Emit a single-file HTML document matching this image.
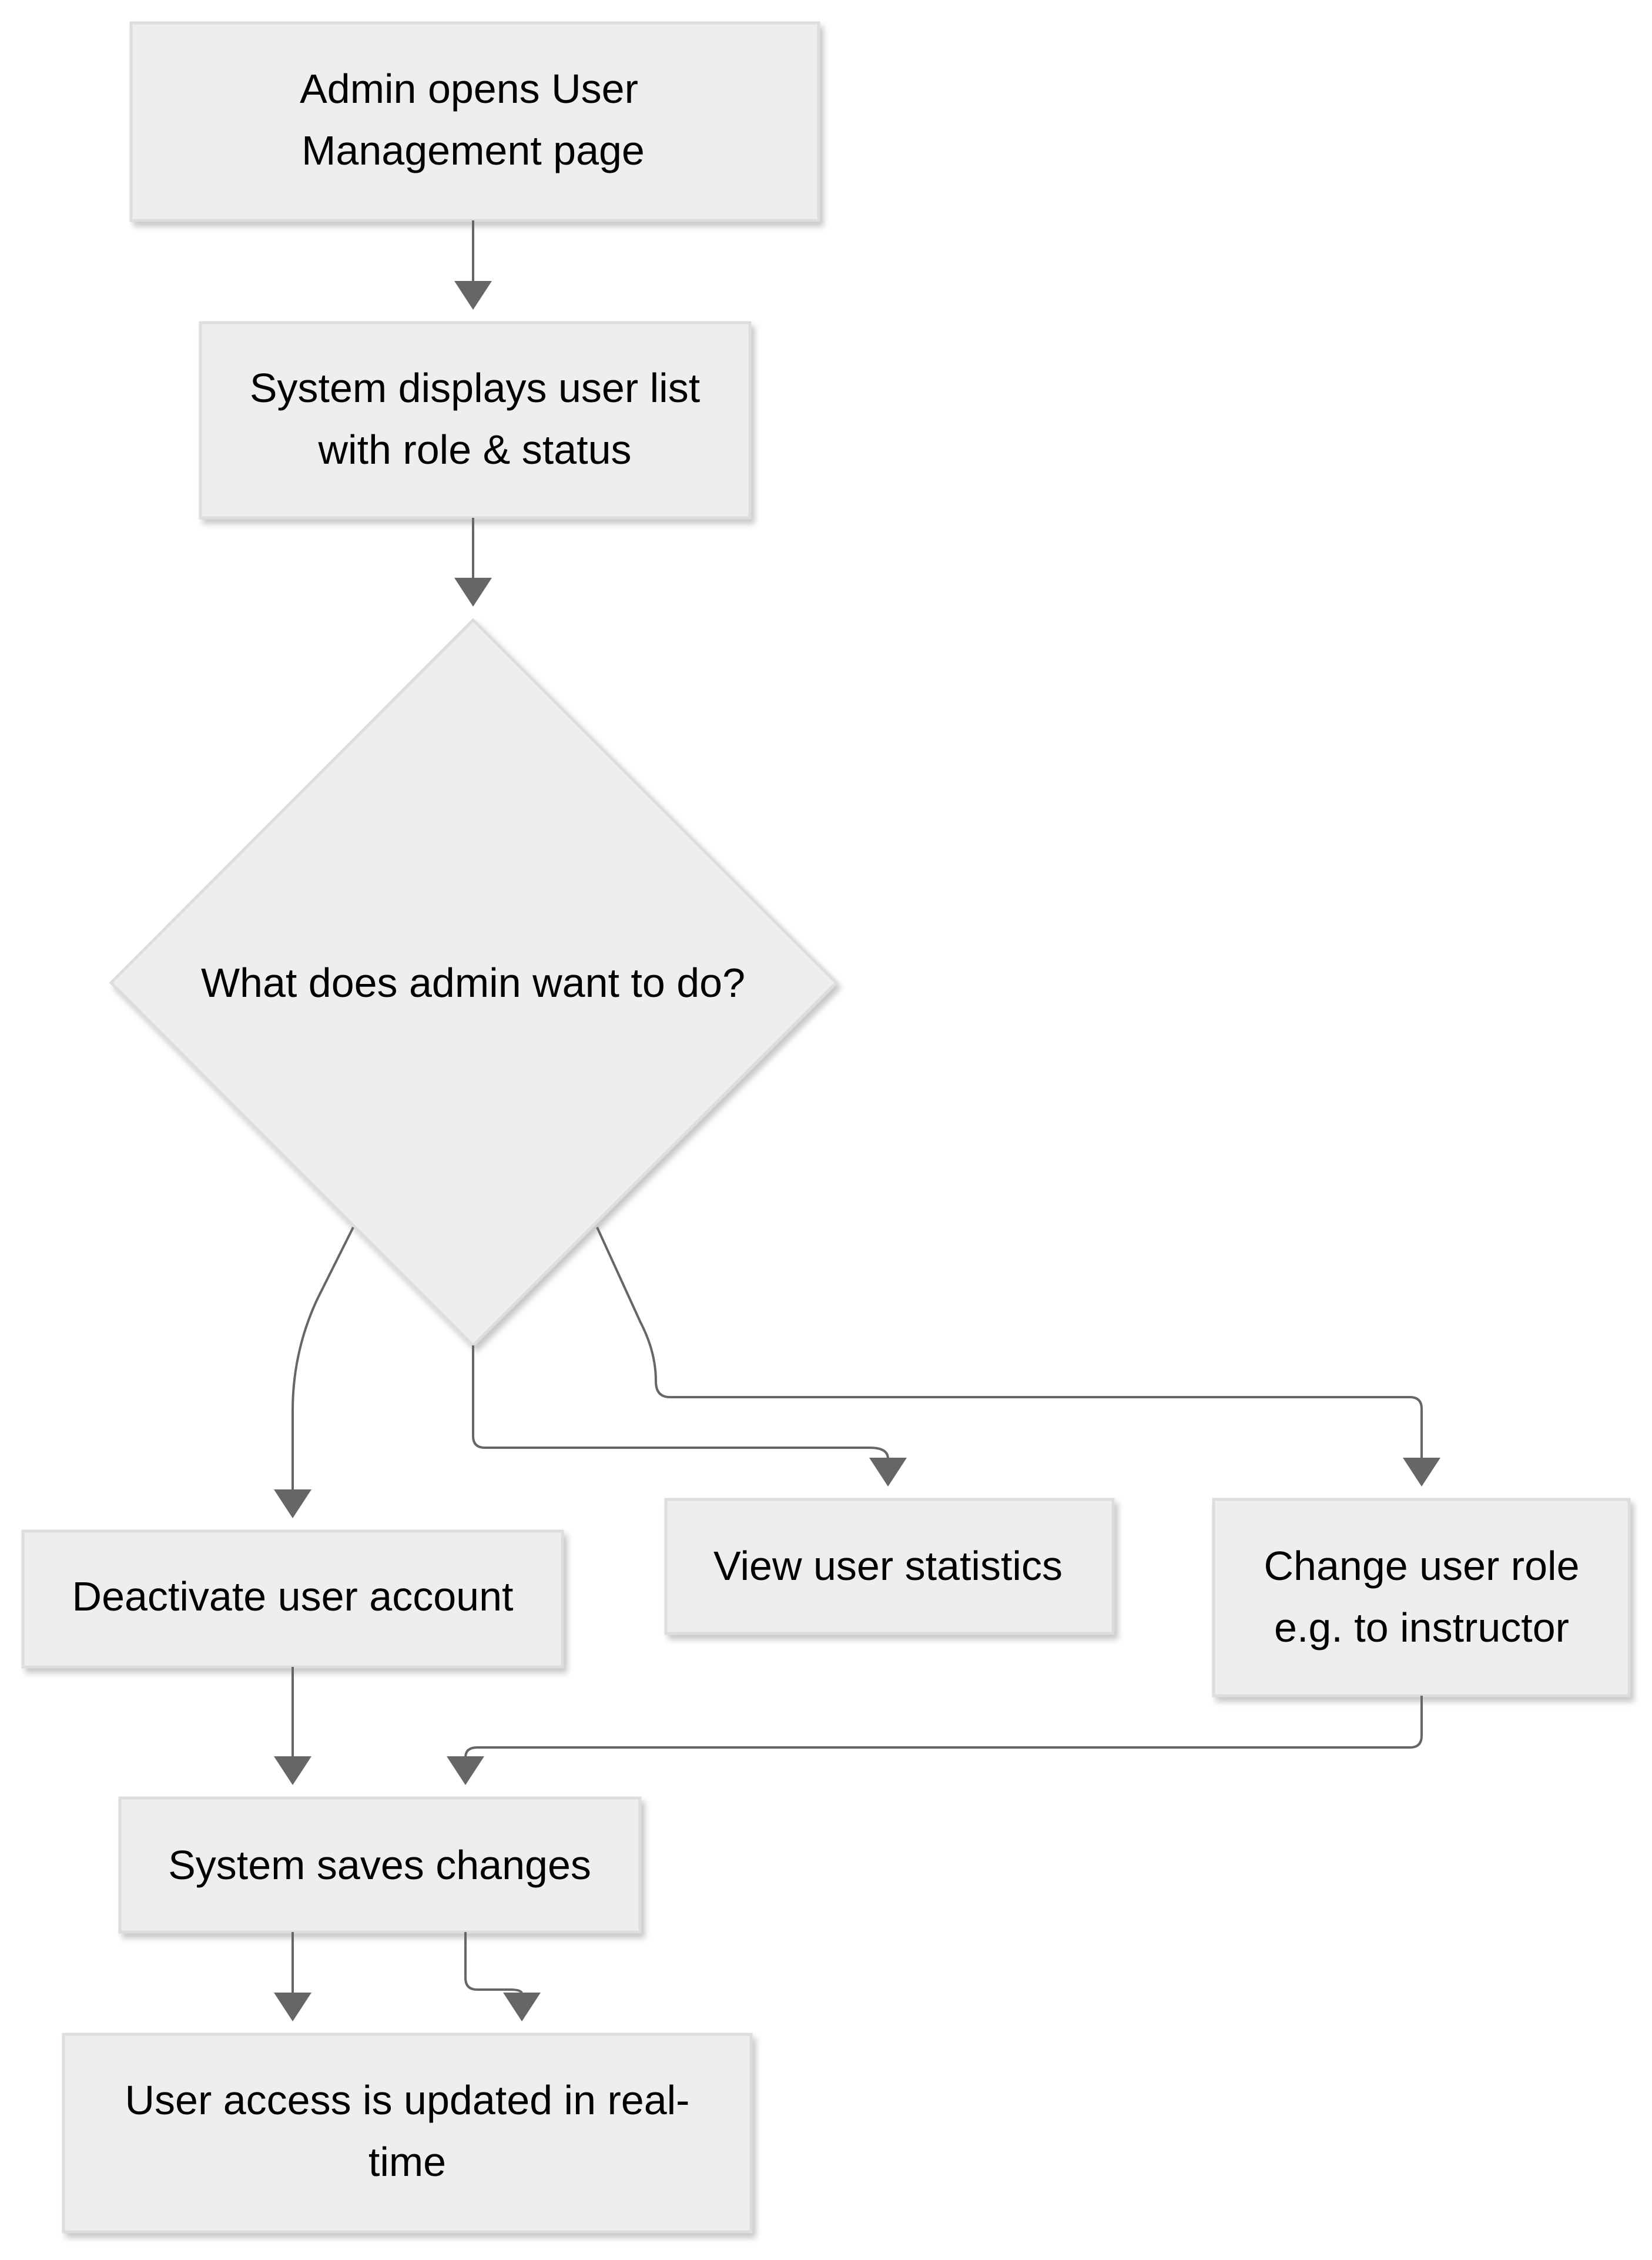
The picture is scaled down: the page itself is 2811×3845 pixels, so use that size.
<!DOCTYPE html>
<html><head><meta charset="utf-8"><style>
html,body{margin:0;padding:0;background:#fff;}
body{width:2811px;height:3840px;overflow:hidden;}
</style></head><body>
<svg width="2811" height="3840" viewBox="0 0 2811 3840" xmlns="http://www.w3.org/2000/svg">
<defs>
<filter id="sh" x="-10%" y="-10%" width="130%" height="130%"><feDropShadow dx="6" dy="8" stdDeviation="5" flood-color="#000" flood-opacity="0.22"/></filter>
</defs>
<g fill="#eeeeee" stroke="#dddddd" stroke-width="5" filter="url(#sh)">
<rect x="223" y="39" width="1170" height="336"/>
<rect x="341" y="549" width="935" height="332"/>
<polygon points="805,1055 1423,1672 805,2289 189,1672"/>
<rect x="39" y="2605" width="918" height="231"/>
<rect x="1133" y="2551" width="761" height="228"/>
<rect x="2065" y="2551" width="707" height="334"/>
<rect x="204" y="3059" width="885" height="228"/>
<rect x="108" y="3461" width="1170" height="336"/>
</g>
<g fill="none" stroke="#666" stroke-width="4">
<path d="M805,375 V480"/>
<path d="M805,881 V985"/>
<path d="M601,2088 L540,2210 Q498,2300 498,2400 V2536"/>
<path d="M805,2289 V2443 Q805,2463 825,2463 H1480 Q1511,2463 1511,2482"/>
<path d="M1016,2088 L1090,2250 Q1116,2300 1116,2350 Q1116,2377 1140,2377 H2399 Q2419,2377 2419,2397 V2482"/>
<path d="M498,2836 V2990"/>
<path d="M2419,2885 V2953 Q2419,2973 2399,2973 H812 Q792,2973 792,2990"/>
<path d="M498,3287 V3392"/>
<path d="M792,3287 V3365 Q792,3385 812,3385 H868 Q888,3385 888,3392"/>
</g>
<g fill="#666">
<path d="M773,478 h64 l-32,49z"/>
<path d="M773,983 h64 l-32,49z"/>
<path d="M466,2534 h64 l-32,49z"/>
<path d="M1479,2480 h64 l-32,49z"/>
<path d="M2387,2480 h64 l-32,49z"/>
<path d="M466,2988 h64 l-32,49z"/>
<path d="M760,2988 h64 l-32,49z"/>
<path d="M466,3390 h64 l-32,49z"/>
<path d="M856,3390 h64 l-32,49z"/>
</g>
<g font-family="'Liberation Sans', Arial, sans-serif" font-size="70" fill="#000" text-anchor="middle">
<text x="798" y="175">Admin opens User</text>
<text x="805" y="280">Management page</text>
<text x="808" y="684">System displays user list</text>
<text x="808" y="789">with role &amp; status</text>
<text x="805" y="1696">What does admin want to do?</text>
<text x="498" y="2740">Deactivate user account</text>
<text x="1511" y="2688">View user statistics</text>
<text x="2419" y="2688">Change user role</text>
<text x="2419" y="2793">e.g. to instructor</text>
<text x="646" y="3197">System saves changes</text>
<text x="693" y="3597">User access is updated in real-</text>
<text x="693" y="3702">time</text>
</g>
</svg>
</body></html>
